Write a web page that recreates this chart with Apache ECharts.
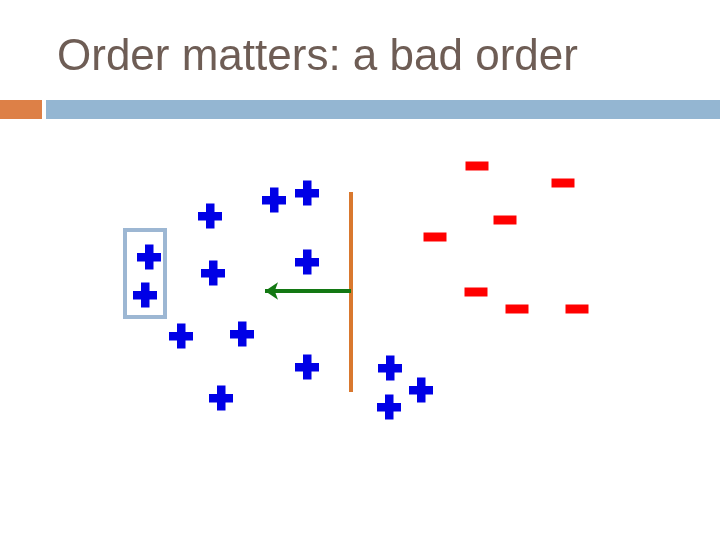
<!DOCTYPE html>
<html>
<head>
<meta charset="utf-8">
<script src="https://cdn.jsdelivr.net/npm/echarts@6/dist/echarts.min.js"></script>
<style>html,body{margin:0;padding:0;background:#fff}#c{width:720px;height:540px}</style>
</head>
<body>
<div id="c"></div>
<script>
// Data (in plot units: x 0..720 left->right, y 0..540 top->bottom)
const titleText = 'Order matters: a bad order';
const plusX = [210, 274, 307, 149, 213, 307, 145, 181, 242, 307, 221, 390, 421, 389];
const plusY = [216, 200, 193, 257, 273, 262, 295, 336, 334, 367, 398, 368, 390, 407];
const minusX = [477, 563, 505, 435, 476, 517, 577];
const minusY = [166, 183, 220, 237, 292, 309, 309];
const separatorX = [351, 351];
const separatorY = [192, 392];
const arrowFrom = [351, 291];
const arrowTo = [265, 291];
const boxCorner1 = [125, 230];
const boxCorner2 = [165, 317];

const plusPath = 'path://M8,0H16.5V8.5H24V17H16.5V25H8V17H0V8.5H8Z';

const chart = echarts.init(document.getElementById('c'), null, {renderer: 'canvas'});
chart.setOption({
  animation: false,
  backgroundColor: '#ffffff',
  title: {
    text: titleText,
    left: 52,
    top: 31,
    textStyle: {
      fontFamily: 'Liberation Sans, Arial, sans-serif',
      fontSize: 44,
      fontWeight: 'normal',
      color: '#6E5D55'
    }
  },
  graphic: [
    {type: 'rect', left: 0, top: 100, shape: {width: 42, height: 19}, style: {fill: '#DD8047'}, silent: true},
    {type: 'rect', left: 46, top: 100, shape: {width: 674, height: 19}, style: {fill: '#94B6D2'}, silent: true}
  ],
  grid: {left: 0, right: 0, top: 0, bottom: 0},
  xAxis: {type: 'value', min: 0, max: 720, show: false},
  yAxis: {type: 'value', min: 0, max: 540, inverse: true, show: false},
  series: [
    {
      type: 'line',
      data: separatorX.map((x, i) => [x, separatorY[i]]),
      symbol: 'none',
      lineStyle: {color: '#D9782E', width: 4, opacity: 1},
      z: 2,
      markLine: {
        silent: true,
        symbol: ['none', 'arrow'],
        symbolSize: [13, 13],
        label: {show: false},
        lineStyle: {color: '#137813', width: 4, type: 'solid', opacity: 1},
        data: [[{coord: arrowFrom}, {coord: arrowTo}]]
      },
      markArea: {
        silent: true,
        itemStyle: {color: 'rgba(0,0,0,0)', borderColor: '#9DB7D3', borderWidth: 4, opacity: 1},
        label: {show: false},
        data: [[{coord: boxCorner1}, {coord: boxCorner2}]]
      }
    },
    {
      type: 'scatter',
      data: plusX.map((x, i) => [x, plusY[i]]),
      symbol: plusPath,
      symbolSize: [24, 25],
      itemStyle: {color: '#0000E6', opacity: 1},
      z: 3
    },
    {
      type: 'scatter',
      data: minusX.map((x, i) => [x, minusY[i]]),
      symbol: 'rect',
      symbolSize: [23, 9],
      itemStyle: {color: '#FF0000', opacity: 1},
      z: 3
    }
  ]
});
</script>
</body>
</html>
